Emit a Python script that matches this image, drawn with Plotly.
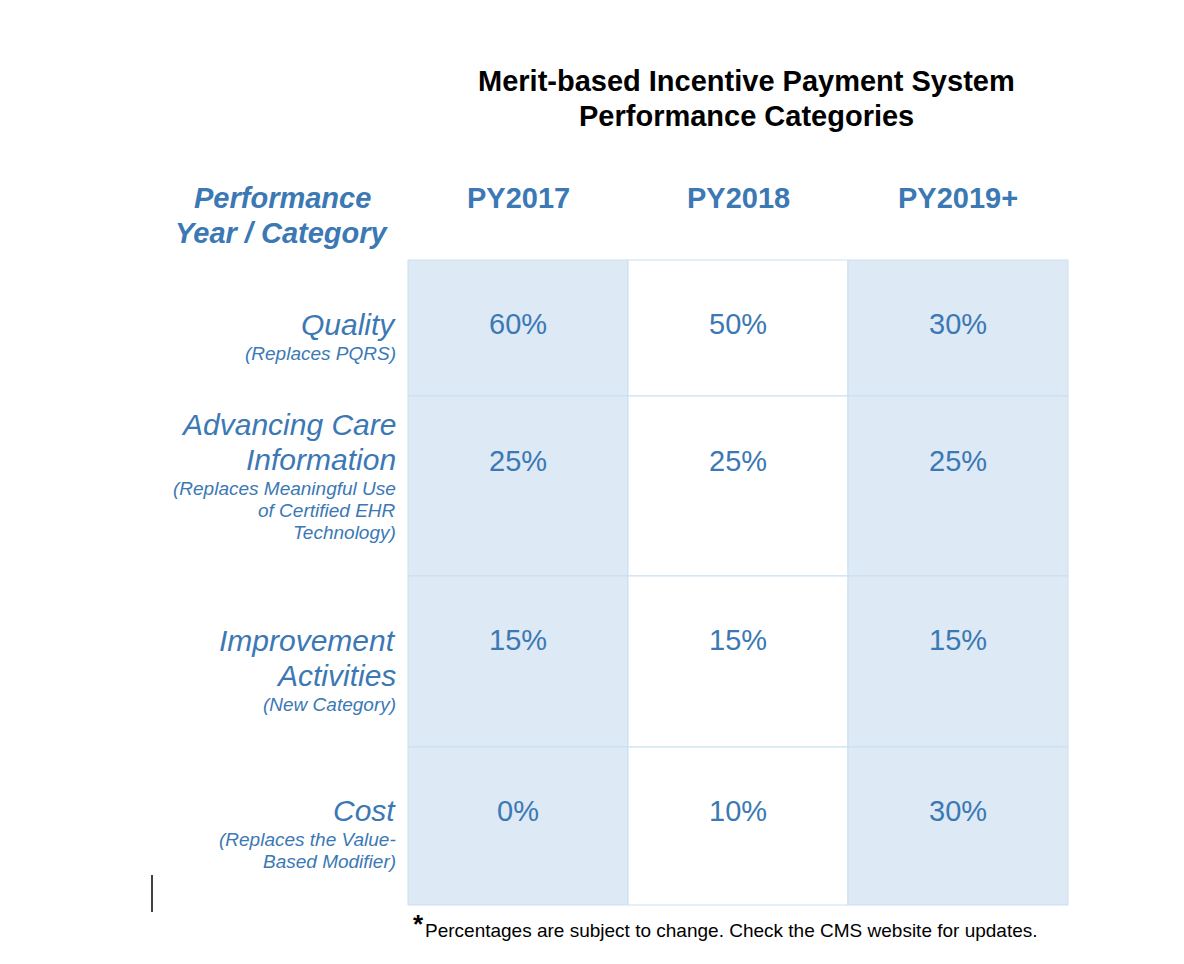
import plotly.graph_objects as go

title = ["Merit-based Incentive Payment System", "Performance Categories"]
years = ["PY2017", "PY2018", "PY2019+"]
categories = [["Quality"], ["Advancing Care", "Information"], ["Improvement", "Activities"], ["Cost"]]
notes = [["(Replaces PQRS)"],
         ["(Replaces Meaningful Use", "of Certified EHR", "Technology)"],
         ["(New Category)"],
         ["(Replaces the Value-", "Based Modifier)"]]
values = [
    ["60%", "50%", "30%"],
    ["25%", "25%", "25%"],
    ["15%", "15%", "15%"],
    ["0%", "10%", "30%"],
]
footnote = "Percentages are subject to change. Check the CMS website for updates."

BLUE = "#3b78b4"
FILL = ["#dde9f5", "#ffffff", "#dde9f5"]
col_x = [408, 628, 848, 1068]
row_y = [260, 396, 576, 747, 905]
label_y = [324, 424, 640, 810]
FONT = "Liberation Sans, Arial, sans-serif"

fig = go.Figure()
shapes, ann = [], []

for r in range(len(categories)):
    for c in range(len(years)):
        shapes.append(dict(type="rect", x0=col_x[c], x1=col_x[c + 1], y0=row_y[r], y1=row_y[r + 1],
                           fillcolor=FILL[c], line=dict(color="#c9dff0", width=1), layer="below"))
        ann.append(dict(x=(col_x[c] + col_x[c + 1]) / 2, y=[324, 461, 640, 811][r], text=values[r][c],
                        showarrow=False, font=dict(size=29, color=BLUE, family=FONT)))
    y = label_y[r]
    for line in categories[r]:
        ann.append(dict(x=398, y=y, text="<i>" + line + "</i>", showarrow=False, xanchor="right",
                        font=dict(size=30, color=BLUE, family=FONT)))
        y += 35
    y -= 6
    for line in notes[r]:
        ann.append(dict(x=398, y=y, text="<i>" + line + "</i>", showarrow=False, xanchor="right",
                        font=dict(size=19, color=BLUE, family=FONT)))
        y += 22

for c, yr in enumerate(years):
    ann.append(dict(x=(col_x[c] + col_x[c + 1]) / 2, y=198, text="<b>" + yr + "</b>", showarrow=False,
                    font=dict(size=29, color=BLUE, family=FONT)))

for i, line in enumerate(["Performance", "Year / Category"]):
    ann.append(dict(x=282, y=198 + 35 * i, text="<b><i>" + line + "</i></b>", showarrow=False,
                    font=dict(size=29, color=BLUE, family=FONT)))
for i, line in enumerate(title):
    ann.append(dict(x=746, y=81 + 35 * i, text="<b>" + line + "</b>", showarrow=False,
                    font=dict(size=29, color="black", family=FONT)))
ann.append(dict(x=411, y=924, text="<b>*</b>", showarrow=False, xanchor="left",
                font=dict(size=26, color="black", family=FONT)))
ann.append(dict(x=423, y=930, text=footnote, showarrow=False, xanchor="left",
                font=dict(size=19, color="black", family=FONT)))

shapes.append(dict(type="line", x0=152, x1=152, y0=875, y1=912, line=dict(color="black", width=1.5)))

fig.update_layout(
    width=1184, height=964, margin=dict(l=0, r=0, t=0, b=0),
    paper_bgcolor="white", plot_bgcolor="white",
    xaxis=dict(range=[8, 1192], visible=False, fixedrange=True),
    yaxis=dict(range=[972, 8], visible=False, fixedrange=True),
    shapes=shapes, annotations=ann, showlegend=False,
)
fig.write_html("out.html")
